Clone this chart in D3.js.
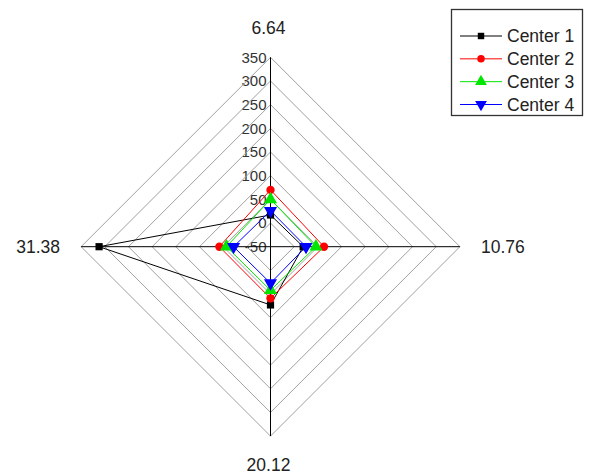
<!DOCTYPE html>
<html>
<head>
<meta charset="utf-8">
<script src="https://cdn.jsdelivr.net/npm/d3@7"></script>
<style>
  html, body { margin: 0; padding: 0; background: #fff; }
  svg { display: block; }
  text { font-family: "Liberation Sans", Arial, sans-serif; }
</style>
</head>
<body>
<svg id="chart" width="590" height="475"></svg>
<script>
// Axis categories (clockwise from top)
const categories = ["6.64", "10.76", "20.12", "31.38"];
// Series
const seriesNames = ["Center 1", "Center 2", "Center 3", "Center 4"];
const center1 = [17, 19, 73, 312];
const center2 = [70, 63, 59, 58];
const center3 = [50, 46, 42, 43];
const center4 = [26, 25, 27, 28];
// Radial tick labels
const tickValues = [-50, 0, 50, 100, 150, 200, 250, 300, 350];

const seriesValues = [center1, center2, center3, center4];
const colors = ["#000000", "#ff0000", "#00e600", "#0000ff"];
const symbols = [d3.symbolSquare, d3.symbolCircle, d3.symbolTriangle, "triDown"];
const symSizes = [52, 55, 75, 75];

const svg = d3.select("#chart");
const cx = 270.5, cy = 246.7, R = 189.4;

const r = d3.scaleLinear().domain([-50, 350]).range([0, R]);
const angle = d3.scalePoint().domain(categories).range([0, 270]);
function pt(cat, v) {
  const a = (angle(cat) - 90) * Math.PI / 180;
  return [cx + r(v) * Math.cos(a), cy + r(v) * Math.sin(a)];
}

const g = svg.append("g");

// Tick labels (behind grid)
g.selectAll("text.tick").data(tickValues).enter().append("text")
  .attr("class", "tick")
  .attr("x", cx - 4)
  .attr("y", d => cy - r(d))
  .attr("dy", "0.36em")
  .attr("text-anchor", "end")
  .attr("font-size", 15)
  .attr("fill", "#333")
  .text(d => d);

// Grid rings
const ringVals = tickValues.filter(v => v > -50);
const line = d3.line();
g.selectAll("path.ring").data(ringVals).enter().append("path")
  .attr("class", "ring")
  .attr("d", v => line(categories.map(c => pt(c, v))) + "Z")
  .attr("fill", "none")
  .attr("stroke", "#a0a0a0")
  .attr("stroke-width", 1);

// Spokes
g.selectAll("line.spoke").data(categories).enter().append("line")
  .attr("class", "spoke")
  .attr("x1", cx).attr("y1", cy)
  .attr("x2", c => pt(c, 350)[0])
  .attr("y2", c => pt(c, 350)[1])
  .attr("stroke", "#000")
  .attr("stroke-width", 1);

// Category labels
const labelOff = [[-2, -30], [43, 0], [-2, 29], [-43, 0]];
g.selectAll("text.cat").data(categories).enter().append("text")
  .attr("class", "cat")
  .attr("x", (c, i) => pt(c, 350)[0] + labelOff[i][0])
  .attr("y", (c, i) => pt(c, 350)[1] + labelOff[i][1])
  .attr("dy", "0.36em")
  .attr("text-anchor", "middle")
  .attr("font-size", 17.5)
  .attr("fill", "#222")
  .text(c => c);

function symPath(s, size) {
  if (s === "triDown") {
    return d3.symbol().type(d3.symbolTriangle).size(size)();
  }
  return d3.symbol().type(s).size(size)();
}

// Series
seriesValues.forEach((vals, si) => {
  const pts = categories.map((c, i) => pt(c, vals[i]));
  g.append("path")
    .attr("d", line(pts) + "Z")
    .attr("fill", "none")
    .attr("stroke", colors[si])
    .attr("stroke-width", 1);
});
seriesValues.forEach((vals, si) => {
  const pts = categories.map((c, i) => pt(c, vals[i]));
  g.selectAll(null).data(pts).enter().append("path")
    .attr("d", symPath(symbols[si], symSizes[si]))
    .attr("transform", d => `translate(${d[0]},${d[1]})` + (symbols[si] === "triDown" ? " rotate(180)" : ""))
    .attr("fill", colors[si]);
});

// Legend
const lg = svg.append("g");
lg.append("rect")
  .attr("x", 451.5).attr("y", 9.5)
  .attr("width", 131).attr("height", 106)
  .attr("fill", "#fff")
  .attr("stroke", "#333")
  .attr("stroke-width", 1.3);
const ly = d3.scalePoint().domain(seriesNames).range([36, 104.5]);
seriesNames.forEach((name, si) => {
  const y = ly(name);
  lg.append("line")
    .attr("x1", 460).attr("x2", 502)
    .attr("y1", y).attr("y2", y)
    .attr("stroke", colors[si]).attr("stroke-width", 1);
  lg.append("path")
    .attr("d", symPath(symbols[si], symSizes[si] * 0.8))
    .attr("transform", `translate(481,${y})` + (symbols[si] === "triDown" ? " rotate(180)" : ""))
    .attr("fill", colors[si]);
  lg.append("text")
    .attr("x", 507).attr("y", y)
    .attr("dy", "0.36em")
    .attr("font-size", 17.5)
    .attr("fill", "#222")
    .text(name);
});
</script>
</body>
</html>
